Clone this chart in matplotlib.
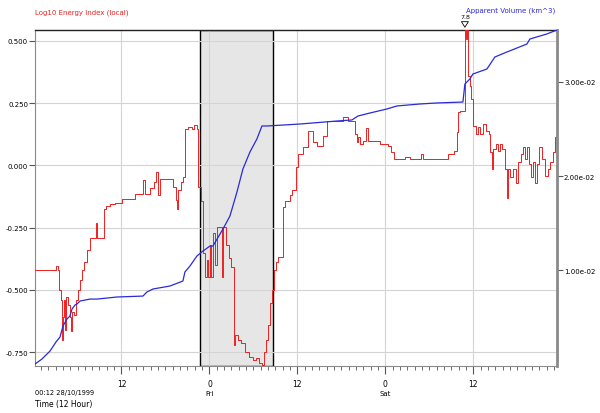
import matplotlib
matplotlib.use("Agg")
import matplotlib.pyplot as plt
from matplotlib.ticker import MultipleLocator, FixedLocator, FixedFormatter
import matplotlib.transforms as mtransforms

# Energy index (log10), hours since 00:00 28/10/1999
energia_horas = [0.2, 3.06, 3.34, 3.47, 3.75, 3.88, 4.02, 4.15, 4.29, 4.43, 4.7, 4.97, 5.11,
                 5.25, 5.52, 5.79, 6.06, 6.34, 6.61, 6.88, 7.29, 7.7, 8.52, 8.66, 9.61, 9.88,
                 10.43, 11.1, 12.06, 13.84, 14.93, 15.2, 15.88, 16.43, 16.7, 16.97, 17.25,
                 18.61, 19.02, 19.43, 19.56, 19.7, 20.1, 20.38, 20.65, 21.06, 21.61, 21.88,
                 22.29, 22.43, 22.84, 23.11, 23.38, 23.66, 23.79, 24.07, 24.2, 24.47, 24.75,
                 25.02, 25.7, 25.84, 26.25, 26.66, 26.93, 27.34, 27.47, 27.88, 28.29, 28.84,
                 29.38, 29.93, 30.34, 30.75, 31.16, 31.43, 31.7, 31.97, 32.25, 32.52, 32.79,
                 33.06, 33.34, 34.02, 34.29, 34.97, 35.25, 35.79, 36.06, 36.75, 37.43, 38.11,
                 38.66, 39.47, 40.02, 42.2, 42.88, 43.84, 44.11, 44.25, 44.52, 44.93, 45.34,
                 45.61, 47.25, 48.34, 48.75, 49.16, 50.66, 51.34, 52.84, 53.11, 56.52, 57.34,
                 57.75, 57.88, 58.16, 58.84, 58.98, 59.11, 59.25, 59.52, 59.66, 59.93, 60.34,
                 60.61, 60.88, 61.29, 61.7, 62.11, 62.25, 62.52, 62.66, 63.07, 63.34, 63.61,
                 63.88, 64.29, 64.57, 64.7, 64.97, 65.38, 65.8, 66.07, 66.48, 66.75, 67.02,
                 67.3, 67.57, 67.84, 68.11, 68.39, 68.66, 68.93, 69.34, 69.75, 70.16, 70.43,
                 70.84, 71.11, 71.4]
energia_valores = [-0.419, -0.403, -0.42, -0.50, -0.54, -0.70, -0.61, -0.54, -0.66, -0.53,
                   -0.56, -0.61, -0.665, -0.59, -0.60, -0.54, -0.50, -0.46, -0.42, -0.387,
                   -0.34, -0.29, -0.23, -0.29, -0.177, -0.165, -0.157, -0.15, -0.133, -0.113,
                   -0.06, -0.113, -0.089, -0.065, -0.028, -0.117, -0.056, -0.056, -0.085,
                   -0.137, -0.177, -0.097, -0.065, -0.048, 0.145, 0.153, 0.145, 0.161, 0.145,
                   -0.085, -0.145, -0.35, -0.448, -0.379, -0.448, -0.319, -0.448, -0.27, -0.40,
                   -0.246, -0.448, -0.246, -0.319, -0.371, -0.407, -0.72, -0.68, -0.70, -0.714,
                   -0.75, -0.77, -0.78, -0.774, -0.794, -0.80, -0.75, -0.70, -0.64, -0.552,
                   -0.50, -0.419, -0.39, -0.367, -0.169, -0.145, -0.12, -0.097, -0.008, 0.044,
                   0.073, 0.137, 0.093, 0.077, 0.117, 0.177, 0.194, 0.177, 0.125, 0.093, 0.113,
                   0.085, 0.097, 0.149, 0.097, 0.085, 0.077, 0.052, 0.024, 0.032, 0.024, 0.044,
                   0.024, 0.044, 0.056, 0.133, 0.214, 0.218, 0.62, 0.508, 0.57, 0.359, 0.319,
                   0.266, 0.157, 0.125, 0.153, 0.125, 0.165, 0.137, 0.125, 0.052, -0.016,
                   0.064, 0.085, 0.056, 0.085, 0.064, -0.016, -0.129, -0.016, -0.048, -0.016,
                   -0.069, 0.012, 0.044, 0.073, 0.024, 0.073, 0.004, -0.048, 0.012, -0.069,
                   0.004, 0.073, 0.024, -0.044, -0.016, 0.012, 0.052, 0.113, 0.113]

# Apparent volume (km^3), em unidades de 1e-2
volume_horas = [0.2, 1.15, 2.25, 3.06, 3.61, 4.02, 4.56, 4.97, 5.25, 5.66, 5.93, 6.34, 7.7,
                8.66, 11.38, 14.93, 15.47, 16.29, 18.61, 20.38, 20.65, 21.34, 22.29, 23.11,
                24.07, 24.47, 25.84, 26.79, 27.75, 28.56, 29.52, 30.47, 31.16, 31.84, 36.34,
                41.38, 43.43, 44.25, 45.88, 48.2, 49.57, 52.7, 55.02, 58.57, 58.84, 59.52,
                59.93, 61.84, 62.93, 64.57, 67.3, 67.7, 70.02, 71.4]
volume_valores = [0.0, 0.053, 0.138, 0.234, 0.287, 0.404, 0.479, 0.511, 0.585, 0.628, 0.638,
                  0.670, 0.691, 0.691, 0.713, 0.723, 0.766, 0.798, 0.830, 0.883, 0.979, 1.043,
                  1.149, 1.202, 1.255, 1.255, 1.436, 1.574, 1.830, 2.074, 2.255, 2.394, 2.532,
                  2.532, 2.553, 2.585, 2.596, 2.638, 2.670, 2.713, 2.745, 2.766, 2.777, 2.787,
                  2.979, 3.032, 3.085, 3.138, 3.266, 3.319, 3.404, 3.457, 3.511, 3.553]
volume_valores = [v / 100 for v in volume_valores]

# eixo X
ticks_x = [12, 24, 36, 48, 60]
rotulos_x = ["12", "0", "12", "0", "12"]
dias = {24: "Fri", 48: "Sat"}
janela = (22.7, 32.66)
pico_hora, pico_texto = 58.84, "7.8"

fig = plt.figure(figsize=(6, 4.14), dpi=100)
ax = fig.add_axes([0.0583, 0.1135, 0.87, 0.8116])

ax.axvspan(janela[0], janela[1], facecolor="#e6e6e6", edgecolor="black", linewidth=1.0, zorder=0.1)
ax.plot(energia_horas, energia_valores, drawstyle="steps-post", color="#ee2020", linewidth=0.7, zorder=3)

ax.set_xlim(0.2, 71.4)
ax.set_ylim(-0.806, 0.544)
ax.set_axisbelow(True)
ax.grid(True, color="#d4d4d4", linewidth=0.8)

ax.xaxis.set_major_locator(FixedLocator(ticks_x))
ax.xaxis.set_major_formatter(FixedFormatter(rotulos_x))
ax.xaxis.set_minor_locator(MultipleLocator(1))
ax.tick_params(axis="x", which="major", length=6, width=0.8, labelsize=5.5, pad=3, color="#555555")
ax.tick_params(axis="x", which="minor", length=3, width=0.6, color="#555555")

ax.set_yticks([0.5, 0.25, 0.0, -0.25, -0.5, -0.75])
ax.set_yticklabels(["0.500", "0.250", "0.000", "-0.250", "-0.500", "-0.750"])
ax.tick_params(axis="y", length=4, width=0.8, labelsize=5, pad=1, color="#555555")

for lado in ["left", "bottom"]:
    ax.spines[lado].set_color("#8a8a8a")
ax.spines["top"].set_color("#222222")
ax.spines["top"].set_linewidth(1.0)
ax.spines["right"].set_visible(False)

ax2 = ax.twinx()
ax2.plot(volume_horas, volume_valores, color="#2a2ad8", linewidth=0.9, zorder=4)
ax2.set_ylim(-0.00021, 0.03553)
ax2.set_yticks([0.01, 0.02, 0.03])
ax2.set_yticklabels(["1.00e-02", "2.00e-02", "3.00e-02"])
ax2.tick_params(axis="y", length=4, width=0.8, labelsize=5, pad=1, color="#555555")
ax2.spines["right"].set_color("#8a8a8a")
ax2.spines["right"].set_linewidth(2)
for lado in ["left", "bottom", "top"]:
    ax2.spines[lado].set_visible(False)

# rotulos dos dias
trans = mtransforms.blended_transform_factory(ax.transData, ax.transAxes)
for hora, dia in dias.items():
    ax.text(hora, -0.07, dia, transform=trans, ha="center", va="top", fontsize=5)

# marcador de valor fora da escala
ax.annotate("", xy=(pico_hora, 1.0), xycoords=trans, xytext=(pico_hora, 1.03),
            textcoords=trans,
            arrowprops=dict(arrowstyle="simple,head_width=0.5,head_length=0.4,tail_width=0.25",
                            facecolor="white", edgecolor="black", linewidth=0.6))
ax.text(pico_hora, 1.034, pico_texto, transform=trans, ha="center", va="bottom", fontsize=4.5)

fig.text(0.058, 0.97, "Log10 Energy Index (local)", color="#ee2020", fontsize=5, va="center")
fig.text(0.925, 0.975, "Apparent Volume (km^3)", color="#2a2ad8", fontsize=5, va="center", ha="right")
fig.text(0.058, 0.05, "00:12 28/10/1999", fontsize=4.8, va="center")
fig.text(0.058, 0.022, "Time (12 Hour)", fontsize=5.5, va="center")

fig.savefig("out.png", dpi=100)
